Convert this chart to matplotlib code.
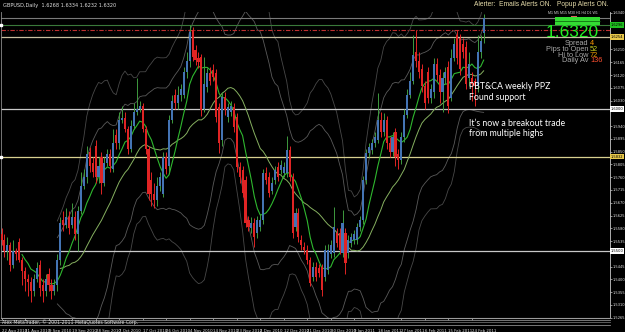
import matplotlib
matplotlib.use('Agg')
import matplotlib.pyplot as plt
import numpy as np
import pandas as pd

# ---------------- data ----------------
opens = [1.5560,1.5540,1.5500,1.5520,1.5450,1.5500,1.5530,1.5470,1.5430,1.5400,
         1.5390,1.5360,1.5400,1.5450,1.5380,1.5360,1.5420,1.5380,1.5360,1.5380,
         1.5470,1.5610,1.5590,1.5620,1.5590,1.5620,1.5560,1.5640,1.5730,1.5760,
         1.5850,1.5810,1.5870,1.5760,1.5830,1.5740,1.5810,1.5840,1.5790,1.5910,
         1.5880,1.5960,1.5970,1.5930,1.5860,1.5940,1.5990,1.6000,1.6010,1.5930,
         1.5860,1.5750,1.5700,1.5680,1.5730,1.5700,1.5830,1.5800,1.5960,1.6050,
         1.6020,1.6050,1.6050,1.6130,1.6170,1.6278,1.6208,1.6180,1.6183,1.6000,
         1.6077,1.6127,1.6137,1.6127,1.6007,1.5891,1.6042,1.5972,1.5990,1.6007,
         1.5972,1.5796,1.5785,1.5750,1.5609,1.5580,1.5599,1.5563,1.5585,1.5609,
         1.5775,1.5761,1.5710,1.5750,1.5796,1.5785,1.5775,1.5775,1.5856,1.5761,
         1.5585,1.5634,1.5540,1.5514,1.5504,1.5468,1.5409,1.5444,1.5440,1.5444,
         1.5409,1.5433,1.5490,1.5493,1.5563,1.5563,1.5493,1.5563,1.5493,1.5528,
         1.5539,1.5539,1.5585,1.5609,1.5750,1.5845,1.5856,1.5880,1.5891,1.5961,
         1.5920,1.5960,1.5880,1.5850,1.5920,1.5840,1.5820,1.5900,1.5980,1.6050,
         1.6100,1.6200,1.6170,1.6140,1.6080,1.6130,1.6040,1.6060,1.6160,1.6120,
         1.6060,1.6110,1.6150,1.6040,1.6180,1.6260,1.6250,1.6230,1.6220,1.6110,
         1.6110,1.6100,1.6080,1.6200,1.6268]
highs = [1.5580,1.5560,1.5550,1.5530,1.5540,1.5510,1.5545,1.5480,1.5445,1.5420,
         1.5410,1.5420,1.5460,1.5470,1.5400,1.5420,1.5440,1.5400,1.5400,1.5490,
         1.5620,1.5640,1.5650,1.5640,1.5670,1.5640,1.5660,1.5780,1.5790,1.5870,
         1.5865,1.5830,1.5890,1.5830,1.5850,1.5830,1.5860,1.5860,1.5930,1.5930,
         1.5990,1.6010,1.5990,1.5940,1.5960,1.6020,1.6110,1.6030,1.6020,1.5940,
         1.5870,1.5780,1.5740,1.5760,1.5780,1.5850,1.5850,1.5980,1.6050,1.6070,
         1.6080,1.6090,1.6150,1.6200,1.6295,1.6290,1.6225,1.6200,1.6195,1.6183,
         1.6145,1.6150,1.6160,1.6140,1.6020,1.6060,1.6060,1.6020,1.6030,1.6020,
         1.5985,1.5815,1.5800,1.5765,1.5625,1.5620,1.5615,1.5625,1.5630,1.5790,
         1.5795,1.5780,1.5760,1.5800,1.5815,1.5820,1.5815,1.5905,1.5870,1.5775,
         1.5650,1.5650,1.5555,1.5530,1.5520,1.5480,1.5460,1.5460,1.5455,1.5455,
         1.5520,1.5525,1.5540,1.5655,1.5580,1.5580,1.5645,1.5580,1.5555,1.5565,
         1.5575,1.5600,1.5625,1.5765,1.5860,1.5880,1.5895,1.5920,1.6056,1.5990,
         1.5985,1.5975,1.5900,1.5920,1.5935,1.5860,1.5920,1.6000,1.6070,1.6130,
         1.6260,1.6280,1.6200,1.6160,1.6100,1.6150,1.6090,1.6180,1.6180,1.6140,
         1.6130,1.6150,1.6170,1.6210,1.6250,1.6280,1.6265,1.6250,1.6240,1.6200,
         1.6130,1.6110,1.6260,1.6260,1.6334]
lows = [1.5520,1.5480,1.5470,1.5430,1.5440,1.5470,1.5460,1.5380,1.5360,1.5340,
        1.5320,1.5340,1.5390,1.5340,1.5320,1.5340,1.5360,1.5330,1.5345,1.5360,
        1.5450,1.5570,1.5580,1.5560,1.5580,1.5540,1.5500,1.5630,1.5720,1.5740,
        1.5780,1.5760,1.5740,1.5740,1.5700,1.5730,1.5800,1.5780,1.5780,1.5860,
        1.5860,1.5950,1.5920,1.5840,1.5850,1.5930,1.5980,1.5990,1.5920,1.5840,
        1.5680,1.5660,1.5650,1.5660,1.5710,1.5690,1.5770,1.5780,1.5950,1.6000,
        1.6000,1.6030,1.6040,1.6110,1.6150,1.6170,1.6155,1.6145,1.5975,1.5990,
        1.6060,1.6085,1.6100,1.5955,1.5845,1.5870,1.5980,1.5955,1.5975,1.5920,
        1.5780,1.5740,1.5690,1.5585,1.5570,1.5565,1.5515,1.5545,1.5570,1.5595,
        1.5735,1.5690,1.5700,1.5735,1.5745,1.5770,1.5760,1.5760,1.5745,1.5545,
        1.5570,1.5530,1.5505,1.5490,1.5455,1.5375,1.5395,1.5395,1.5410,1.5340,
        1.5395,1.5420,1.5475,1.5480,1.5515,1.5490,1.5480,1.5420,1.5475,1.5515,
        1.5525,1.5525,1.5570,1.5595,1.5735,1.5830,1.5840,1.5865,1.5880,1.5900,
        1.5905,1.5860,1.5830,1.5835,1.5800,1.5790,1.5805,1.5885,1.5970,1.6040,
        1.6090,1.6150,1.6110,1.6060,1.6000,1.6020,1.6020,1.6040,1.6100,1.6020,
        1.5990,1.6090,1.5985,1.6030,1.6170,1.6160,1.6120,1.6180,1.6070,1.6080,
        1.6030,1.6010,1.6060,1.6180,1.6232]
closes = [1.5540,1.5500,1.5520,1.5450,1.5500,1.5490,1.5470,1.5430,1.5400,1.5390,
          1.5360,1.5400,1.5440,1.5370,1.5360,1.5400,1.5380,1.5360,1.5380,1.5470,
          1.5600,1.5590,1.5620,1.5580,1.5620,1.5560,1.5640,1.5730,1.5760,1.5840,
          1.5800,1.5780,1.5760,1.5800,1.5740,1.5810,1.5840,1.5800,1.5880,1.5880,
          1.5960,1.5970,1.5930,1.5860,1.5940,1.5990,1.6000,1.6010,1.5930,1.5860,
          1.5700,1.5700,1.5680,1.5730,1.5760,1.5830,1.5790,1.5960,1.6030,1.6020,
          1.6050,1.6070,1.6130,1.6170,1.6270,1.6183,1.6172,1.6165,1.5996,1.6090,
          1.6127,1.6100,1.6113,1.5972,1.5880,1.6042,1.5996,1.6007,1.6010,1.5937,
          1.5796,1.5761,1.5704,1.5599,1.5585,1.5600,1.5549,1.5609,1.5609,1.5775,
          1.5750,1.5704,1.5740,1.5785,1.5761,1.5803,1.5796,1.5856,1.5761,1.5563,
          1.5634,1.5549,1.5520,1.5504,1.5468,1.5387,1.5444,1.5409,1.5423,1.5363,
          1.5504,1.5504,1.5520,1.5585,1.5528,1.5504,1.5599,1.5458,1.5539,1.5549,
          1.5560,1.5585,1.5609,1.5750,1.5845,1.5866,1.5880,1.5900,1.5961,1.5920,
          1.5960,1.5880,1.5850,1.5900,1.5830,1.5820,1.5900,1.5980,1.6050,1.6100,
          1.6190,1.6170,1.6130,1.6080,1.6020,1.6040,1.6070,1.6160,1.6120,1.6060,
          1.6110,1.6130,1.6010,1.6180,1.6230,1.6180,1.6140,1.6200,1.6090,1.6160,
          1.6090,1.6080,1.6200,1.6240,1.6320]

date_labels = ["22 Aug 2010", "31 Aug 2010", "9 Sep 2010", "19 Sep 2010", "28 Sep 2010",
               "7 Oct 2010", "17 Oct 2010", "26 Oct 2010", "4 Nov 2010", "14 Nov 2010",
               "23 Nov 2010", "2 Dec 2010", "12 Dec 2010", "21 Dec 2010", "30 Dec 2010",
               "9 Jan 2011", "18 Jan 2011", "27 Jan 2011", "6 Feb 2011", "15 Feb 2011",
               "24 Feb 2011"]
price_ticks = [1.5265, 1.5310, 1.5355, 1.5400, 1.5445, 1.5535, 1.5580, 1.5625, 1.5670,
               1.5715, 1.5760, 1.5805, 1.5850, 1.5895, 1.5940, 1.6030, 1.6075,
               1.6120, 1.6165, 1.6210, 1.6340]
hline_prices = [1.6320, 1.6296, 1.6278, 1.6254, 1.6000, 1.5832, 1.5500]
box_prices = [1.6296, 1.6254, 1.6000, 1.5832, 1.5500]
marker_prices = [1.6296, 1.5832]
info_names = ["Spread", "Pips to Open", "Hi to Low", "Daily Av"]
info_values = ["4", "52", "72", "136"]
title_text = "GBPUSD,Daily  1.6268 1.6334 1.6232 1.6320"

# ---------------- figure ----------------
W, H = 625, 332
fig = plt.figure(figsize=(W / 100, H / 100), dpi=100, facecolor='black')
AX_L, AX_R, AX_T, AX_B = 1, 610, 12, 318
ax = fig.add_axes([AX_L / W, 1 - AX_B / H, (AX_R - AX_L) / W, (AX_B - AX_T) / H])
ax.set_facecolor('black')

n = len(closes)
x = np.arange(n)
DX, X0 = 2.94, 1.5
ax.set_xlim((AX_L - X0) / DX, (AX_R - X0) / DX)
ax.set_ylim(1.5264, 1.6342)

o = np.array(opens); c = np.array(closes); h = np.array(highs); l = np.array(lows)
up = c >= o
bull_body, bull_wick = '#4474b4', '#3e9a3e'
bear_body, bear_wick = '#e02424', '#e02424'

# indicators computed from closes
s = pd.Series(closes)
ma_fast = s.rolling(8).mean()
ma_slow = s.rolling(21).mean()
mid = s.rolling(20).mean()
sd = s.rolling(20).std()
for k, col in [(2.0, '#5a5a5a'), (3.0, '#484848')]:
    ax.plot(x, mid + k * sd, color=col, lw=0.6, zorder=1)
    ax.plot(x, mid - k * sd, color=col, lw=0.6, zorder=1)

# horizontal levels
styles = [('#7a7a7a', '-', 0.8), ('#3a7a3a', '-', 0.8), ('#c03030', (0, (4, 1.5, 1, 1.5)), 0.8),
          ('#c8c0a0', '-', 0.9), ('#c8c8c8', '-', 0.9), ('#d8d090', '-', 0.9), ('#c8c8c8', '-', 0.9)]
for p, (col, ls, lw) in zip(hline_prices, styles):
    ax.axhline(p, color=col, ls=ls, lw=lw, zorder=2)
ax.plot([0.0] * len(marker_prices), marker_prices, ls='none', marker='s', ms=1.6,
        color='white', transform=ax.get_yaxis_transform(), clip_on=False, zorder=6)

ax.plot(x, ma_slow, color='#86b060', lw=0.7, zorder=3)
ax.plot(x, ma_fast, color='#2fb82f', lw=0.8, zorder=3)

ax.vlines(x[up], l[up], h[up], colors=bull_wick, lw=0.7, zorder=4)
ax.vlines(x[~up], l[~up], h[~up], colors=bear_wick, lw=0.7, zorder=4)
body_h = np.maximum(np.abs(c - o), 0.00025)
ax.bar(x[up], body_h[up], bottom=np.minimum(o, c)[up], width=0.72, color=bull_body, lw=0, zorder=5)
ax.bar(x[~up], body_h[~up], bottom=np.minimum(o, c)[~up], width=0.72, color=bear_body, lw=0, zorder=5)

# axes styling
ax.spines['top'].set_visible(False)
ax.spines['left'].set_color('#8a8a8a'); ax.spines['left'].set_linewidth(0.6)
ax.spines['right'].set_color('#c8c8c8'); ax.spines['right'].set_linewidth(0.6)
ax.spines['bottom'].set_color('#9a9a9a'); ax.spines['bottom'].set_linewidth(0.8)
ax.yaxis.tick_right()
ax.set_yticks(price_ticks)
ax.set_yticklabels([f"{p:.4f}" for p in price_ticks], fontsize=2.6, color='#e0e0e0')
ax.tick_params(axis='y', length=1.2, width=0.5, color='#c8c8c8', pad=0.6)
ax.set_xticks(np.arange(0, 8 * len(date_labels), 8))
ax.set_xticklabels(date_labels, fontsize=2.8, color='#e0e0e0', ha='left')
ax.tick_params(axis='x', length=1.5, width=0.5, color='#c8c8c8', pad=6.5)

# price boxes on right axis
box_styles = [('#20c020', 'black'), ('#e8c84a', 'black'), ('white', 'black'), ('#e8c84a', 'black'), ('white', 'black')]
for p, (fc, tc) in zip(box_prices, box_styles):
    ax.annotate(f"{p:.4f}", xy=(1.0, p), xycoords=('axes fraction', 'data'), xytext=(0.5, 0),
                textcoords='offset points', fontsize=2.6, color=tc, va='center', ha='left',
                bbox=dict(boxstyle='square,pad=0.2', fc=fc, ec='none'), zorder=10, annotation_clip=False)

# bottom bars
for yy, col in [(319.5, '#8a8a8a'), (321.8, '#6a6a6a'), (324.5, '#8a8a8a')]:
    fig.add_artist(plt.Line2D([0, AX_R / W], [1 - yy / H] * 2, color=col, lw=0.6))
fig.text(2 / W, 1 - 322.3 / H, "Alex MetaTrader, \u00a9 2001-2011 MetaQuotes Software Corp.",
         fontsize=3.3, color='#e0e0e0', va='center', ha='left')

# texts
panel_font = ['Liberation Sans', 'DejaVu Sans']
fig.text(3 / W, 1 - 5 / H, title_text, fontsize=3.6, color='#e0e0e0', va='center', ha='left')
fig.text(608 / W, 1 - 5 / H, "Alerter:  Emails Alerts ON.   Popup Alerts ON.", fontsize=4.8,
         color='#e6dcaa', va='center', ha='right', family=panel_font)
fig.text(573 / W, 1 - 13 / H, "M1 M5 M15 M30 H1 H4 D1 W1", fontsize=2.6, color='#d0d0d0',
         va='center', ha='center', family=panel_font)
fig.add_artist(plt.Rectangle((555 / W, 1 - 24.5 / H), 45 / W, 8 / H, transform=fig.transFigure,
                             fc='#33dd33', ec='none'))
fig.add_artist(plt.Line2D([555 / W, 600 / W], [1 - 20.5 / H] * 2, color='#0a5a0a', lw=0.5))
fig.add_artist(plt.Rectangle((571 / W, 1 - 17 / H), 6 / W, 1.5 / H, transform=fig.transFigure,
                             fc='#e06060', ec='none'))
fig.text(599 / W, 1 - 32.5 / H, "1.6320", fontsize=12.5, color='#22ee22', va='center', ha='right',
         family=panel_font)
for k, (nm, val, vc) in enumerate(zip(info_names, info_values, ['#ff9a00', '#c8d020', '#f0a000', '#ff5030'])):
    yy = 43.5 + 5.8 * k
    fig.text(588 / W, 1 - yy / H, nm, fontsize=5.3, color='#a8a8a8', va='center', ha='right',
             family=panel_font)
    fig.text(590 / W, 1 - yy / H, val, fontsize=5.3, color=vc, va='center', ha='left',
             family=panel_font)

ann_font = ['Lato', 'DejaVu Sans']
fig.text(469 / W, 1 - 87 / H, "PBT&CA weekly PPZ", fontsize=6.3, color='white', va='center',
         ha='left', family=ann_font)
fig.text(469 / W, 1 - 97 / H, "Found support", fontsize=6.3, color='white', va='center',
         ha='left', family=ann_font)
fig.text(469 / W, 1 - 124 / H, "It\u2019s now a breakout trade", fontsize=6.3, color='white',
         va='center', ha='left', family=ann_font)
fig.text(469 / W, 1 - 134 / H, "from multiple highs", fontsize=6.3, color='white', va='center',
         ha='left', family=ann_font)

fig.savefig('out.png', dpi=100, facecolor='black')
